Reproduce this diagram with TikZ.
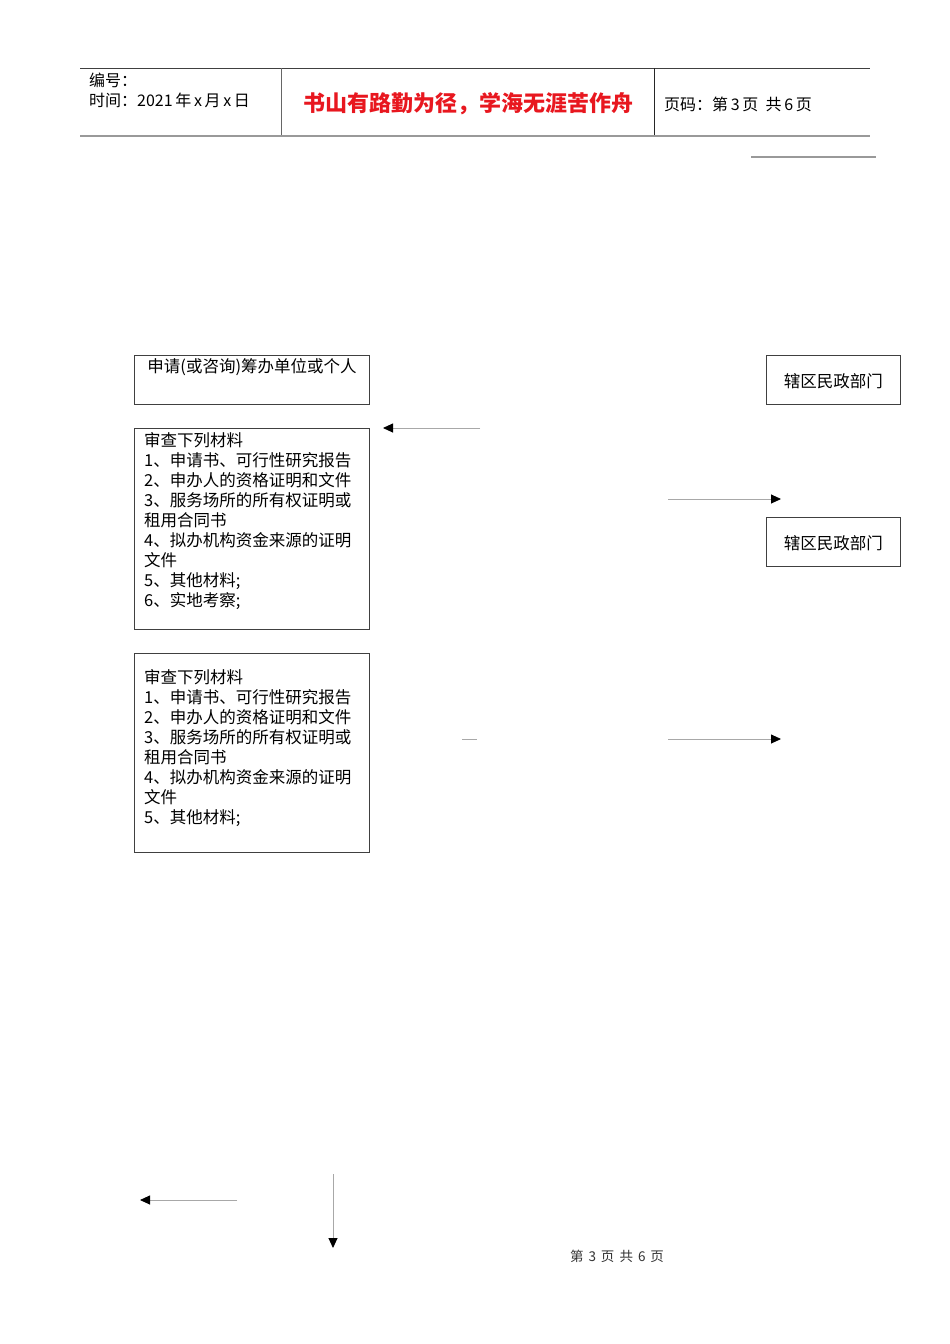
\documentclass[tikz,border=0pt]{standalone}
\usepackage{fontspec}
\setmainfont{Liberation Serif}
\newfontfamily\cjk{Noto Sans CJK SC}
\usetikzlibrary{arrows.meta}
\definecolor{boxline}{HTML}{404040}
\definecolor{arrline}{HTML}{A8A8A8}
\definecolor{hdrgrey}{HTML}{999999}
\definecolor{hdrred}{HTML}{E8171F}
\tikzset{
  box/.style={draw=boxline, line width=0.9pt, inner sep=0pt, anchor=north west},
  boxtext/.style={inner sep=0pt, anchor=north west, align=left, font=\cjk\fontsize{16.5pt}{20.1pt}\selectfont},
  arr/.style={draw=arrline, line width=0.9pt, -{Triangle[length=10pt, width=9pt, color=black]}},
  plainline/.style={draw=arrline, line width=0.9pt},
  hdrtext/.style={inner sep=0pt, font=\cjk\fontsize{16pt}{20pt}\selectfont}
}
\begin{document}
\begin{tikzpicture}[x=1pt, y=-1pt]
\useasboundingbox (0,0) rectangle (950,1344);
\fill[white] (0,0) rectangle (950,1344);
% header
\coordinate (ht1) at (80,68); \coordinate (ht2) at (870,68);
\coordinate (hb1) at (80,136); \coordinate (hb2) at (870,136);
\draw[draw=black!75, line width=0.9pt] (ht1) -- (ht2);
\draw[draw=hdrgrey, line width=2pt] (hb1) -- (hb2);
\coordinate (d1t) at (281,68); \coordinate (d1b) at (281,135);
\coordinate (d2t) at (654,68); \coordinate (d2b) at (654,135);
\draw[draw=black!60, line width=0.9pt] (d1t) -- (d1b);
\draw[draw=black!85, line width=0.9pt] (d2t) -- (d2b);
\node[hdrtext, anchor=west] (num) at (89,80) {编号：};
\node[hdrtext, anchor=west] (time) at (89,100) {时间：2021\,年\,x\,月\,x\,日};
\node[inner sep=0pt, font=\cjk\fontsize{22pt}{24pt}\selectfont\bfseries, text=hdrred] (motto) at (468,104) {书山有路勤为径，学海无涯苦作舟};
\node[hdrtext, anchor=west] (page) at (664,104) {页码：第\,3\,页\ \ 共\,6\,页};
\coordinate (sl1) at (751,157); \coordinate (sl2) at (876,157);
\draw[draw=hdrgrey, line width=1.4pt] (sl1) -- (sl2);
% left boxes
\node[box, minimum width=235pt, minimum height=49pt] (b1) at (134,355) {};
\node[inner sep=0pt, font=\cjk\fontsize{16.5pt}{20pt}\selectfont] (b1t) at (252,367) {申请(或咨询)筹办单位或个人};
\node[box, minimum width=235pt, minimum height=201pt] (b2) at (134,428) {};
\node[boxtext] (b2t) at (144,432) {审查下列材料\\1、申请书、可行性研究报告\\2、申办人的资格证明和文件\\3、服务场所的所有权证明或\\租用合同书\\4、拟办机构资金来源的证明\\文件\\5、其他材料;\\6、实地考察;};
\node[box, minimum width=235pt, minimum height=199pt] (b3) at (134,653) {};
\node[boxtext] (b3t) at (144,669) {审查下列材料\\1、申请书、可行性研究报告\\2、申办人的资格证明和文件\\3、服务场所的所有权证明或\\租用合同书\\4、拟办机构资金来源的证明\\文件\\5、其他材料;};
% right boxes
\node[box, minimum width=134pt, minimum height=49pt] (r1) at (766,355) {};
\node[inner sep=0pt, font=\cjk\fontsize{16.5pt}{20pt}\selectfont] (r1t) at ([yshift=-1pt]r1.center) {辖区民政部门};
\node[box, minimum width=134pt, minimum height=49pt] (r2) at (766,517) {};
\node[inner sep=0pt, font=\cjk\fontsize{16.5pt}{20pt}\selectfont] (r2t) at ([yshift=-1pt]r2.center) {辖区民政部门};
% arrows
\coordinate (a1s) at (480,428); \coordinate (a1e) at (383,428);
\draw[arr] (a1s) -- (a1e);
\coordinate (a2s) at (668,499); \coordinate (a2e) at (781,499);
\draw[arr] (a2s) -- (a2e);
\coordinate (l1s) at (462,739); \coordinate (l1e) at (477,739);
\draw[plainline] (l1s) -- (l1e);
\coordinate (a3s) at (668,739); \coordinate (a3e) at (781,739);
\draw[arr] (a3s) -- (a3e);
\coordinate (a4s) at (237,1200); \coordinate (a4e) at (140,1200);
\draw[arr] (a4s) -- (a4e);
\coordinate (a5s) at (333,1174); \coordinate (a5e) at (333,1248);
\draw[arr] (a5s) -- (a5e);
% footer
\node[inner sep=0pt, font=\cjk\fontsize{13.5pt}{15pt}\selectfont, text=black!80] (foot) at (617,1256) {第\hspace{5pt}3\hspace{5pt}页\hspace{5pt}共\hspace{5pt}6\hspace{5pt}页};
\end{tikzpicture}
\end{document}
